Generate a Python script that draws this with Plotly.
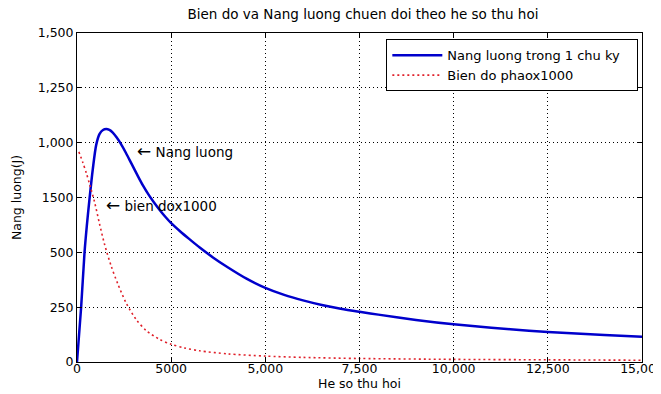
import plotly.graph_objects as go

# Energy per cycle (blue)
x_energy = [0, 110, 200, 260, 330, 420, 510, 600, 690, 776, 860, 950, 1050, 1150, 1300,
            1450, 1600, 1750, 1900, 2050, 2200, 2350, 2500, 2750, 3000, 3258, 3600, 4000,
            4500, 5000, 5500, 6000, 6500, 7000, 7500, 8000, 9000, 10000, 11000, 12000,
            13000, 14000, 15000]
y_energy = [0, 250, 500, 620, 740, 880, 990, 1040, 1058, 1062, 1058, 1046, 1025, 999, 953,
            903, 853, 805, 763, 726, 692, 661, 633, 594, 558, 522, 478, 432,
            380, 338, 306, 281, 260, 243, 229, 216, 192, 172, 156, 143,
            132, 123, 115]

# Amplitude x1000 (red dotted)
x_amp = [50, 150, 250, 332, 465, 598, 731, 908, 1086, 1308, 1574, 1840, 2194, 2500, 2850,
         3258, 4000, 5000, 6000, 7500, 10000, 12500, 15000]
y_amp = [958, 912, 860, 812, 730, 630, 537, 437, 355, 268, 193, 143, 103, 81, 64,
         51, 37, 27, 21, 16, 12, 10, 8]

x_tickvals = [0, 2500, 5000, 7500, 10000, 12500, 15000]
x_ticktext = ["0", "5000", "5,000", "7,500", "10,000", "12,500", "15,000"]
y_tickvals = [0, 250, 500, 750, 1000, 1250, 1500]
y_ticktext = ["0", "250", "500", "1500", "1,000", "1,250", "1,500"]

FONT = "DejaVu Sans, Verdana, sans-serif"
PAD = "\u00a0\u00a0\u00a0"

fig = go.Figure()
fig.add_trace(go.Scatter(x=x_energy, y=y_energy, mode="lines",
                         name="Nang luong trong 1 chu ky" + PAD,
                         line=dict(color="#0000cc", width=2.5, shape="spline", smoothing=0.8)))
fig.add_trace(go.Scatter(x=x_amp, y=y_amp, mode="lines",
                         name="Bien do phaox1000" + PAD,
                         line=dict(color="#e0202a", width=1.6, dash="2px,3px", shape="spline", smoothing=0.8)))

ARROW = "<span style='font-size:17px'>\u2190</span> "
fig.add_annotation(x=1529, y=963, text=ARROW + "Nang luong", showarrow=False,
                   xanchor="left", yanchor="middle", font=dict(size=13.5, color="black", family=FONT))
fig.add_annotation(x=705, y=715, text=ARROW + "bien dox1000", showarrow=False,
                   xanchor="left", yanchor="middle", font=dict(size=13.5, color="black", family=FONT))

axis_common = dict(showline=True, linecolor="black", linewidth=1, mirror="ticks",
                   ticks="inside", ticklen=5, tickcolor="black",
                   showgrid=True, gridcolor="black", gridwidth=1, griddash="1px,3px",
                   zeroline=False, automargin=False, ticklabeloverflow="allow",
                   tickfont=dict(size=12.5, color="black", family=FONT))

fig.update_xaxes(range=[0, 15000], tickvals=x_tickvals, ticktext=x_ticktext,
                 ticklabelstandoff=-5,
                 title=dict(text="He so thu hoi", font=dict(size=12.5, color="black", family=FONT), standoff=4),
                 **axis_common)
fig.update_yaxes(range=[0, 1500], tickvals=y_tickvals, ticktext=y_ticktext,
                 title=dict(text="Nang luong(J)", font=dict(size=12.5, color="black", family=FONT), standoff=13),
                 **axis_common)

# page body has an 8px margin: figure is sized/offset to put the axes where the reference has them
fig.update_layout(
    width=653, height=386,
    margin=dict(l=69, r=19, t=25, b=32),
    paper_bgcolor="white", plot_bgcolor="white",
    title=dict(text="Bien do va Nang luong chuen doi theo he so thu hoi",
               x=0.5436, xanchor="center", y=0.985, yanchor="middle", yref="container",
               font=dict(size=13.5, color="black", family=FONT)),
    legend=dict(x=0.9935, y=0.981, xanchor="right", yanchor="top",
                bgcolor="white", bordercolor="black", borderwidth=1,
                font=dict(size=13, color="black", family=FONT),
                itemwidth=50, tracegroupgap=0),
    showlegend=True,
)

fig.write_html("out.html")
